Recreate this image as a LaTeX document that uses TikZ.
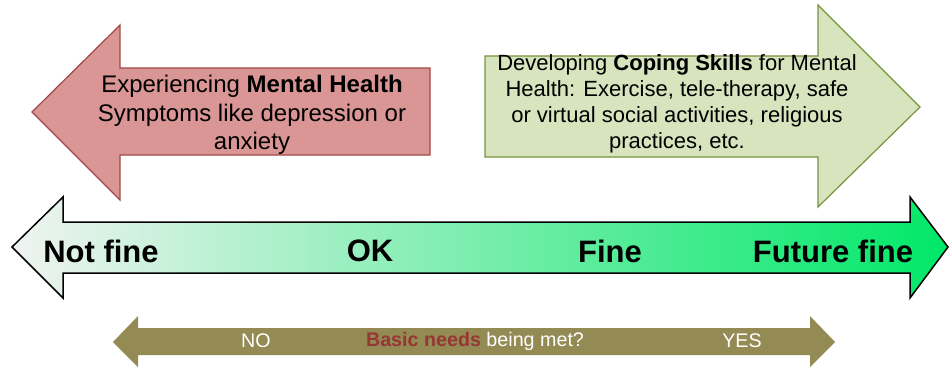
\documentclass[tikz,border=0pt]{standalone}
\usepackage{fontspec}
\setmainfont{Liberation Sans}
\definecolor{redfill}{RGB}{217,150,148}
\definecolor{redline}{RGB}{160,72,70}
\definecolor{greenfill}{RGB}{215,228,189}
\definecolor{greenline}{RGB}{119,147,60}
\definecolor{olive}{RGB}{148,138,84}
\definecolor{needs}{RGB}{149,55,53}
\definecolor{notfine}{RGB}{240,243,241}
\definecolor{futurefine}{RGB}{0,232,104}

\begin{document}
\begin{tikzpicture}[x=1pt, y=-1pt,
  scalelbl/.style={font=\fontsize{31}{36}\selectfont\bfseries, inner sep=0},
  boxtext/.style={align=center, inner sep=0, font=\fontsize{24}{28.5}\selectfont},
  needlbl/.style={text=white, inner sep=0, font=\fontsize{19.7}{22}\selectfont}]
\useasboundingbox (0,0) rectangle (950,370);
\draw[redline, fill=redfill, line width=1.2pt] (32,112)--(120,25)--(120,68)--(430,68)--(430,155)--(120,155)--(120,200)--cycle;
\node[boxtext] (symptoms) at (252,115) {Experiencing \textbf{Mental Health}\\Symptoms like depression or\\anxiety};
\draw[greenline, fill=greenfill, line width=1.2pt] (485,56)--(818,56)--(818,5)--(920,107)--(818,207)--(818,157)--(485,157)--cycle;
\node[boxtext, font=\fontsize{22}{26}\selectfont] (coping) at (677,104) {Developing \textbf{Coping Skills} for Mental\\Health: Exercise, tele-therapy, safe\\or virtual social activities, religious\\practices, etc.};
\draw[black, line width=1.5pt, left color=notfine, right color=futurefine] (12,247)--(63,197)--(63,222)--(910,222)--(910,197)--(948,247)--(910,298)--(910,273)--(63,273)--(63,298)--cycle;
\foreach \x/\t/\n in {101/Not fine/nf, 370/OK/ok, 610/Fine/fn, 833/Future fine/ff} {
  \node[scalelbl] (\n) at (\x,251) {\t};
}
\fill[olive] (113,342)--(138,316)--(138,328)--(810,328)--(810,316)--(835,342)--(810,367)--(810,355)--(138,355)--(138,367)--cycle;
\node[needlbl] (no) at (256,341) {NO};
\node[needlbl] (met) at (475,341) {\textcolor{needs}{\textbf{Basic needs}} being met?};
\node[needlbl] (yes) at (742,341) {YES};
\end{tikzpicture}
\end{document}
